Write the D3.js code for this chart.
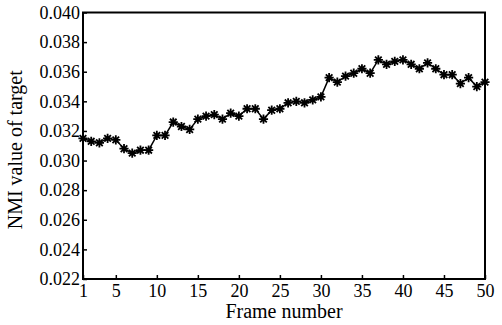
<!DOCTYPE html>
<html>
<head>
<meta charset="utf-8">
<script src="https://cdn.jsdelivr.net/npm/d3@7"></script>
<style>
html,body{margin:0;padding:0;background:#fff;}
svg{display:block;}
</style>
</head>
<body>
<svg id="chart" width="502" height="325"></svg>
<script>
const frames = d3.range(1, 51);
const nmiValues = [
  0.0315, 0.0313, 0.0312, 0.0315, 0.0314, 0.0308, 0.0305, 0.0307, 0.0307, 0.0317,
  0.0317, 0.0326, 0.0323, 0.0321, 0.0328, 0.0330, 0.0331, 0.0328, 0.0332, 0.0330,
  0.0335, 0.0335, 0.0328, 0.0334, 0.0335, 0.0339, 0.0340, 0.0339, 0.0341, 0.0343,
  0.0356, 0.0353, 0.0357, 0.0359, 0.0362, 0.0359, 0.0368, 0.0365, 0.0367, 0.0368,
  0.0365, 0.0362, 0.0366, 0.0362, 0.0358, 0.0358, 0.0352, 0.0356, 0.0350, 0.0353
];
const xTicks = [1, 5, 10, 15, 20, 25, 30, 35, 40, 45, 50];
const yTicks = [0.022, 0.024, 0.026, 0.028, 0.030, 0.032, 0.034, 0.036, 0.038, 0.040];
const xLabel = "Frame number";
const yLabel = "NMI value of target";

const L = 83, R = 485, T = 12.5, B = 279;
const svg = d3.select("#chart");
const x = d3.scaleLinear().domain([1, 50]).range([L, R]);
const y = d3.scaleLinear().domain([0.022, 0.040]).range([B, T]);
const font = "'Liberation Serif', 'Times New Roman', serif";

const gx = svg.append("g").attr("transform", `translate(0,${B})`)
  .call(d3.axisBottom(x).tickValues(xTicks).tickSize(-4).tickPadding(5).tickFormat(d3.format("d")));
const gy = svg.append("g").attr("transform", `translate(${L},0)`)
  .call(d3.axisLeft(y).tickValues(yTicks).tickSize(-4).tickPadding(3).tickFormat(d3.format(".3f")));
[gx, gy].forEach(g => {
  g.select(".domain").remove();
  g.selectAll(".tick line").attr("stroke", "#000").attr("stroke-width", 1.5);
  g.selectAll(".tick text").attr("fill", "#000").style("font-family", font).style("font-size", "18px");
});

const line = d3.line().x((d, i) => x(frames[i])).y(d => y(d));
svg.append("path").datum(nmiValues).attr("d", line)
  .attr("fill", "none").attr("stroke", "#000").attr("stroke-width", 1.5);

const r = 4.6;
const star = `M${-r},0L${r},0M0,${-r}L0,${r}M${-r*0.72},${-r*0.72}L${r*0.72},${r*0.72}M${-r*0.72},${r*0.72}L${r*0.72},${-r*0.72}`;
svg.append("g").selectAll("path").data(nmiValues).join("path")
  .attr("transform", (d, i) => `translate(${x(frames[i])},${y(d)})`)
  .attr("d", star).attr("stroke", "#000").attr("stroke-width", 1.8).attr("fill", "none");

svg.append("rect").attr("x", L).attr("y", T).attr("width", R - L).attr("height", B - T)
  .attr("fill", "none").attr("stroke", "#000").attr("stroke-width", 2);

svg.append("text").attr("x", (L + R) / 2).attr("y", 318).attr("text-anchor", "middle")
  .style("font-family", font).style("font-size", "20px").attr("fill", "#000").text(xLabel);
svg.append("text").attr("transform", `translate(22,${(T + B) / 2 + 4}) rotate(-90)`).attr("text-anchor", "middle")
  .style("font-family", font).style("font-size", "20px").attr("fill", "#000").text(yLabel);
</script>
</body>
</html>
